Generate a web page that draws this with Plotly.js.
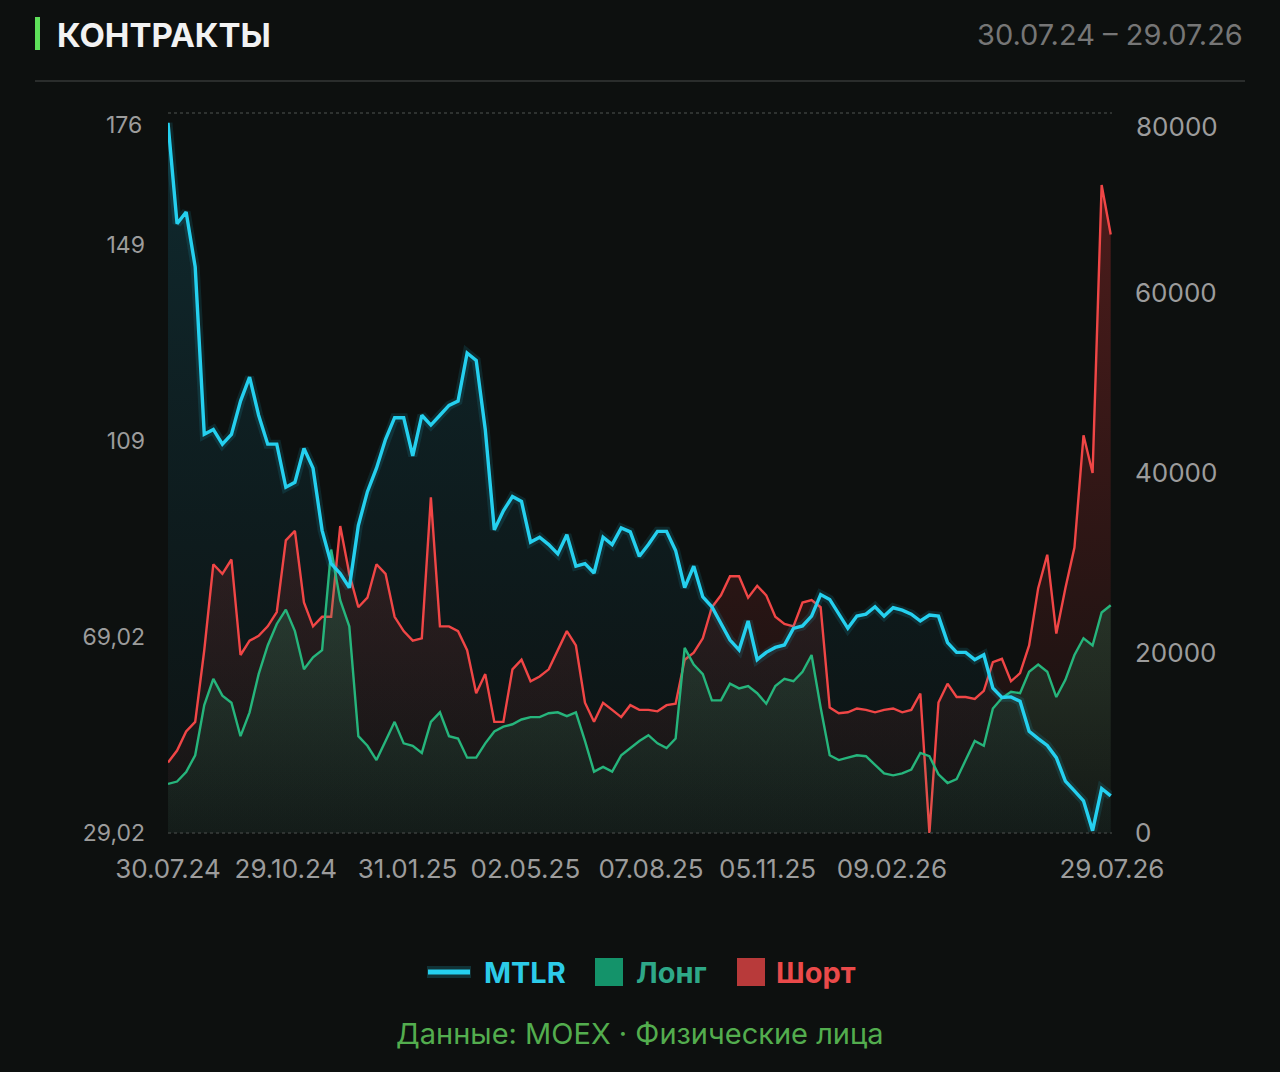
<!DOCTYPE html>
<html>
<head>
<meta charset="utf-8">
<script src="https://cdn.plot.ly/plotly-3.0.1.min.js"></script>
<style>
html,body{margin:0;padding:0;background:#0d100f;}
#chart{width:1280px;height:1072px;}
</style>
</head>
<body>
<div id="chart"></div>
<script>
// ---- data (weekly samples from 30.07.24) ----
const startDate = '2024-07-30';
const stepDays = 7;

const mtlr = [174,153.4,155.8,144.6,110.4,111.4,108.4,110.4,117.2,122.1,
114.3,108.4,108.4,99.6,100.6,107.5,103.5,90.8,84.0,82.0,
79.1,91.8,98.7,103.5,109.4,113.8,113.8,106.0,114.3,112.3,
114.3,116.3,117.2,127.0,125.5,111.4,90.9,94.8,97.7,96.7,
88.4,89.4,87.9,86.0,89.9,83.5,84.0,82.1,89.4,87.9,
91.3,90.5,85.5,87.9,90.6,90.6,86.7,79.1,83.5,77.2,
75.2,71.8,68.4,66.4,72.3,64.4,65.9,66.9,67.4,70.8,
71.3,73.3,77.7,76.7,73.7,70.8,73.3,73.7,75.2,73.3,
75.0,74.5,73.7,72.3,73.5,73.3,67.9,65.9,65.9,64.4,
65.4,58.6,56.7,56.8,55.9,49.8,48.3,46.9,44.4,39.6,
37.6,35.6,29.5,38.1,36.6];

const longs = [5451,5717,6778,8635,14206,17125,15268,14471,10757,13410,
17655,20839,23226,24818,22430,18186,19513,20308,31500,25879,
22961,10757,9696,8104,10227,12349,9961,9696,8900,12349,
13410,10757,10492,8370,8370,9961,11286,11817,12083,12614,
12880,12880,13304,13410,12986,13410,10227,6813,7343,6813,
8635,9431,10227,10864,9961,9431,10492,20573,18716,17655,
14737,14737,16594,16063,16329,15533,14365,16329,17125,16859,
17920,19777,13941,8635,8104,8370,8635,8529,7574,6618,
6406,6618,7043,8900,8529,6512,5557,5982,8104,10227,
9696,13835,14994,15692,15533,17920,18716,17920,15108,17018,
19777,21634,20839,24500,25300];

const shorts = [7838,9165,11286,12349,20308,29858,28798,30390,19777,21369,
21900,22961,24553,32512,33573,25614,22961,24022,24022,34104,
28798,25084,26145,29858,28798,24022,22430,21369,21634,37287,
22961,22961,22430,20308,15533,17655,12349,12349,18186,19247,
16859,17390,18186,20308,22430,20839,14471,12349,14471,13676,
12880,14206,13676,13676,13517,14206,14365,19247,20043,21634,
25084,26410,28533,28533,26145,27472,26410,24022,23226,22961,
25614,25879,25084,13941,13304,13410,13835,13676,13410,13676,
13835,13410,13676,15500,0,14500,16594,15108,15108,14896,
15798,18982,19354,16859,17761,20839,27206,30921,22165,27206,
31717,44185,40001,72000,66500];

const xTickVals = ['2024-07-30','2024-10-29','2025-01-31','2025-05-02','2025-08-07','2025-11-05','2026-02-09','2026-07-29'];
const xTickText = ['30.07.24','29.10.24','31.01.25','02.05.25','07.08.25','05.11.25','09.02.26','29.07.26'];
const leftTickVals = [29.02,69.02,109,149,176];
const leftTickText = ['29,02','69,02','109','149','176'];
const rightTickVals = [0,20000,40000,60000,80000];
const rightTickText = ['0','20000','40000','60000','80000'];

// ---- build dates ----
const t0 = Date.parse(startDate + 'T00:00:00Z');
const dates = mtlr.map((_, i) => new Date(t0 + i * stepDays * 86400000).toISOString().slice(0, 10));

const CYAN = '#25d0ef', GREEN = '#26b57c', RED = '#f04646';
const FONT = 'Inter, Roboto, "Noto Sans", sans-serif';
const TICKCOL = '#9c9c9c';

// pixel -> paper helpers (plot area 168..1112 x 113..833)
const PL = 168, PR = 1112, PT = 113, PB = 833;
const px = v => (v - PL) / (PR - PL);
const py = v => (PB - v) / (PB - PT);

// top tick labels are drawn slightly inside the plot in the reference
const leftShown = leftTickText.map((t, i) => i === leftTickText.length - 1 ? '' : t);
const rightShown = rightTickText.map((t, i) => i === rightTickText.length - 1 ? '' : t);

const traces = [
  { x: dates, y: mtlr, yaxis: 'y', type: 'scatter', mode: 'lines', fill: 'tozeroy',
    line: { width: 0, color: 'rgba(0,0,0,0)' },
    fillgradient: { type: 'vertical', colorscale: [[0, 'rgba(20,120,150,0.0)'], [1, 'rgba(30,170,205,0.17)']] },
    hoverinfo: 'skip', showlegend: false },
  { x: dates, y: shorts, yaxis: 'y2', type: 'scatter', mode: 'lines', fill: 'tozeroy', name: 'Шорт',
    line: { width: 2.4, color: RED },
    fillgradient: { type: 'vertical', colorscale: [[0, 'rgba(200,50,50,0.03)'], [1, 'rgba(200,50,50,0.34)']] },
    showlegend: false },
  { x: dates, y: longs, yaxis: 'y2', type: 'scatter', mode: 'lines', fill: 'tozeroy', name: 'Лонг',
    line: { width: 2.4, color: GREEN },
    fillgradient: { type: 'vertical', colorscale: [[0, 'rgba(38,181,124,0.05)'], [1, 'rgba(38,181,124,0.22)']] },
    showlegend: false },
  { x: dates, y: mtlr, yaxis: 'y3', type: 'scatter', mode: 'lines',
    line: { width: 9, color: 'rgba(37,208,239,0.12)' }, hoverinfo: 'skip', showlegend: false },
  { x: dates, y: mtlr, yaxis: 'y3', type: 'scatter', mode: 'lines', name: 'MTLR',
    line: { width: 3.4, color: CYAN }, showlegend: false }
];

const layout = {
  width: 1280, height: 1072,
  paper_bgcolor: '#0d100f', plot_bgcolor: '#0d100f',
  margin: { l: PL, r: 1280 - PR, t: PT, b: 1072 - PB },
  showlegend: false,
  xaxis: {
    type: 'date', range: ['2024-07-30', '2026-07-29'],
    tickvals: xTickVals, ticktext: xTickText,
    showgrid: false, zeroline: false, showline: false, ticks: '',
    tickfont: { family: FONT, size: 26, color: TICKCOL }, ticklabelstandoff: 18
  },
  yaxis: {
    range: [29.02, 176], side: 'left',
    tickvals: leftTickVals, ticktext: leftShown,
    showgrid: false, zeroline: false, showline: false, ticks: '',
    tickfont: { family: FONT, size: 23, color: TICKCOL }, ticklabelstandoff: 22
  },
  yaxis2: {
    overlaying: 'y', side: 'right', range: [0, 80000],
    tickvals: rightTickVals, ticktext: rightShown,
    showgrid: false, zeroline: false, showline: false, ticks: '',
    tickfont: { family: FONT, size: 26, color: TICKCOL }, ticklabelstandoff: 22
  },
  yaxis3: {
    overlaying: 'y', range: [29.02, 176], visible: false
  },
  shapes: [
    { type: 'line', xref: 'paper', yref: 'paper', x0: 0, x1: 1, y0: 1, y1: 1,
      line: { color: '#3a3e3c', width: 1.5, dash: 'dot' }, layer: 'below' },
    { type: 'line', xref: 'paper', yref: 'paper', x0: 0, x1: 1, y0: 0, y1: 0,
      line: { color: '#3a3e3c', width: 1.5, dash: 'dot' } },
    { type: 'line', xref: 'paper', yref: 'paper', x0: px(35), x1: px(1245), y0: py(81), y1: py(81),
      line: { color: '#2a2d2c', width: 2 } },
    { type: 'rect', xref: 'paper', yref: 'paper', x0: px(35), x1: px(40), y0: py(50), y1: py(17),
      fillcolor: '#5ee05a', line: { width: 0 } },
    // legend glyphs
    { type: 'line', xref: 'paper', yref: 'paper', x0: px(427), x1: px(471), y0: py(972), y1: py(972),
      line: { color: 'rgba(37,208,239,0.18)', width: 12 } },
    { type: 'line', xref: 'paper', yref: 'paper', x0: px(428), x1: px(470), y0: py(972), y1: py(972),
      line: { color: CYAN, width: 5 } },
    { type: 'rect', xref: 'paper', yref: 'paper', x0: px(595), x1: px(623), y0: py(986), y1: py(958),
      fillcolor: '#14936a', line: { width: 0 } },
    { type: 'rect', xref: 'paper', yref: 'paper', x0: px(737), x1: px(765), y0: py(986), y1: py(958),
      fillcolor: '#b83a3a', line: { width: 0 } }
  ],
  annotations: [
    { xref: 'paper', yref: 'paper', x: px(144), y: py(125), xanchor: 'right', yanchor: 'middle', showarrow: false,
      text: leftTickText[leftTickText.length - 1], font: { family: FONT, size: 23, color: TICKCOL } },
    { xref: 'paper', yref: 'paper', x: px(1134), y: py(126), xanchor: 'left', yanchor: 'middle', showarrow: false,
      text: rightTickText[rightTickText.length - 1], font: { family: FONT, size: 26, color: TICKCOL } },
    { xref: 'paper', yref: 'paper', x: px(55), y: py(35), xanchor: 'left', yanchor: 'middle', showarrow: false,
      text: '<b>КОНТРАКТЫ</b>', font: { family: FONT, size: 33, color: '#f2f2f2' } },
    { xref: 'paper', yref: 'paper', x: px(1245), y: py(35), xanchor: 'right', yanchor: 'middle', showarrow: false,
      text: '30.07.24 – 29.07.26', font: { family: FONT, size: 29, color: '#767676' } },
    { xref: 'paper', yref: 'paper', x: px(482), y: py(972), xanchor: 'left', yanchor: 'middle', showarrow: false,
      text: '<b>MTLR</b>', font: { family: FONT, size: 29, color: '#2ccbe9' } },
    { xref: 'paper', yref: 'paper', x: px(634), y: py(972), xanchor: 'left', yanchor: 'middle', showarrow: false,
      text: '<b>Лонг</b>', font: { family: FONT, size: 29, color: '#2ea888' } },
    { xref: 'paper', yref: 'paper', x: px(774), y: py(972), xanchor: 'left', yanchor: 'middle', showarrow: false,
      text: '<b>Шорт</b>', font: { family: FONT, size: 29, color: '#ea4a4a' } },
    { xref: 'paper', yref: 'paper', x: px(640), y: py(1033), xanchor: 'center', yanchor: 'middle', showarrow: false,
      text: 'Данные: MOEX · Физические лица', font: { family: FONT, size: 29, color: '#53ad4e' } }
  ]
};

Plotly.newPlot('chart', traces, layout, { displayModeBar: false, staticPlot: true });
</script>
</body>
</html>
